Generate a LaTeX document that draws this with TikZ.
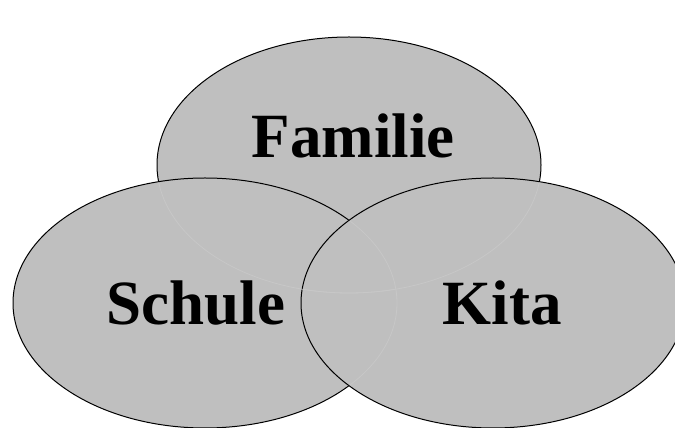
\documentclass[tikz,border=0pt]{standalone}
\usepackage{fontspec}
\setmainfont{Liberation Serif}

\begin{document}
\begin{tikzpicture}[x=1pt,y=1pt,
	set/.style={fill=gray!50,draw=black,line width=1pt},
	faint/.style={draw=gray!44,line width=0.8pt},
	lbl/.style={anchor=base,font=\fontsize{63}{75}\selectfont\bfseries}]
	\clip (0,0) rectangle (675,428);

	% the three circles of life
	\draw[set] (349,263) ellipse [x radius=192,y radius=128];
	\draw[set] (205,125) ellipse [x radius=192,y radius=125];
	\draw[set] (493,125) ellipse [x radius=192,y radius=125];

	% hidden outlines, only faintly visible
	\begin{scope}
		\clip (205,125) ellipse [x radius=191,y radius=124];
		\draw[faint] (349,263) ellipse [x radius=192,y radius=128];
	\end{scope}
	\begin{scope}
		\clip (493,125) ellipse [x radius=191,y radius=124];
		\draw[faint] (349,263) ellipse [x radius=192,y radius=128];
		\draw[faint] (205,125) ellipse [x radius=192,y radius=125];
	\end{scope}

	\node[lbl] (familie) at (353,270) {Familie};
	\node[lbl] (schule) at (196,103) {Schule};
	\node[lbl] (kita) at (502,103) {Kita};
\end{tikzpicture}
\end{document}
